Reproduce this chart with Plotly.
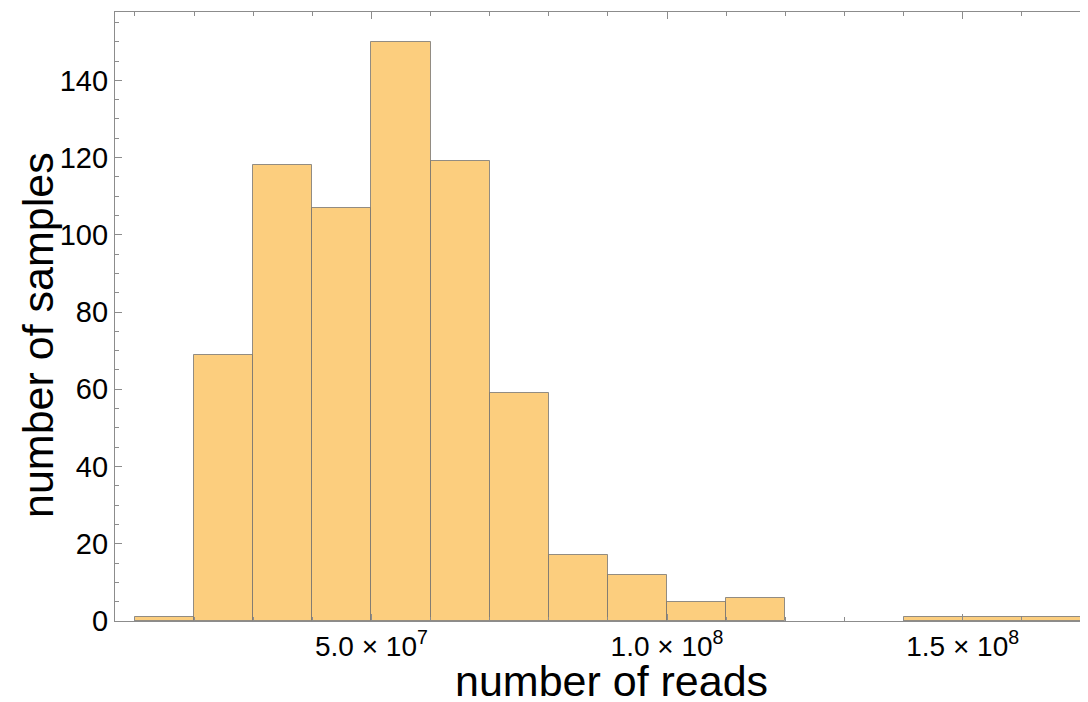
import plotly.graph_objects as go

# Histogram data: bins of width 1e7 reads
bin_starts = [1e7, 2e7, 3e7, 4e7, 5e7, 6e7, 7e7, 8e7, 9e7, 10e7, 11e7, 14e7, 15e7, 16e7]
counts = [1, 69, 118, 107, 150, 119, 59, 17, 12, 5, 6, 1, 1, 1]
bin_width = 1e7

x_tick_vals = [5e7, 1e8, 1.5e8]
x_tick_text = ["5.0 \u00d7 10<sup>7</sup>", "1.0 \u00d7 10<sup>8</sup>", "1.5 \u00d7 10<sup>8</sup>"]
y_tick_vals = [0, 20, 40, 60, 80, 100, 120, 140]

centers = [s + bin_width / 2 for s in bin_starts]

FONT = "Liberation Sans, Arial, sans-serif"
AXC = "#8c8c8c"

# page body has an 8px margin; compensate so the plot lands where the reference has it
OFF = 8
L, R, T, B = 115 - OFF, 8, 12 - OFF, 702 - (621 - OFF)
PW, PH = 1088 - L - R, 702 - T - B

fig = go.Figure()
fig.add_trace(go.Bar(
    x=centers, y=counts, width=[bin_width] * len(centers),
    marker=dict(color="#FCCE7E", line=dict(color="rgba(110,110,110,0.75)", width=1)),
    hoverinfo="x+y",
))

fig.update_layout(
    width=1088, height=702,
    margin=dict(l=L, r=R, t=T, b=B),
    paper_bgcolor="white", plot_bgcolor="white",
    showlegend=False, bargap=0,
    font=dict(family=FONT, color="black"),
    xaxis=dict(
        range=[0.662e7, 17.12e7],
        tickvals=x_tick_vals, ticktext=x_tick_text,
        tickfont=dict(size=28, family=FONT, color="black"),
        showline=True, linecolor=AXC, linewidth=1.2, mirror="ticks",
        ticks="inside", ticklen=7, tickcolor=AXC, tickwidth=1,
        minor=dict(dtick=1e7, tick0=0, ticks="inside", ticklen=4, tickcolor=AXC),
        showgrid=False, zeroline=False,
    ),
    yaxis=dict(
        range=[0, 157.7],
        tickvals=y_tick_vals,
        tickfont=dict(size=29, family=FONT, color="black"),
        showline=True, linecolor=AXC, linewidth=1.2, mirror=False,
        ticks="inside", ticklen=7, tickcolor=AXC, tickwidth=1,
        minor=dict(dtick=5, tick0=0, ticks="inside", ticklen=4, tickcolor=AXC),
        showgrid=False, zeroline=False,
    ),
    annotations=[
        dict(text="number of reads", xref="paper", yref="paper",
             x=(611 - 115) / PW, y=(621 - 681) / PH,
             xanchor="center", yanchor="middle", showarrow=False,
             font=dict(size=43, family=FONT, color="black")),
        dict(text="number of samples", xref="paper", yref="paper",
             x=(38 - 115) / PW, y=(621 - 335) / PH,
             xanchor="center", yanchor="middle", showarrow=False, textangle=-90,
             font=dict(size=43, family=FONT, color="black")),
    ],
)

fig.write_html("out.html")
